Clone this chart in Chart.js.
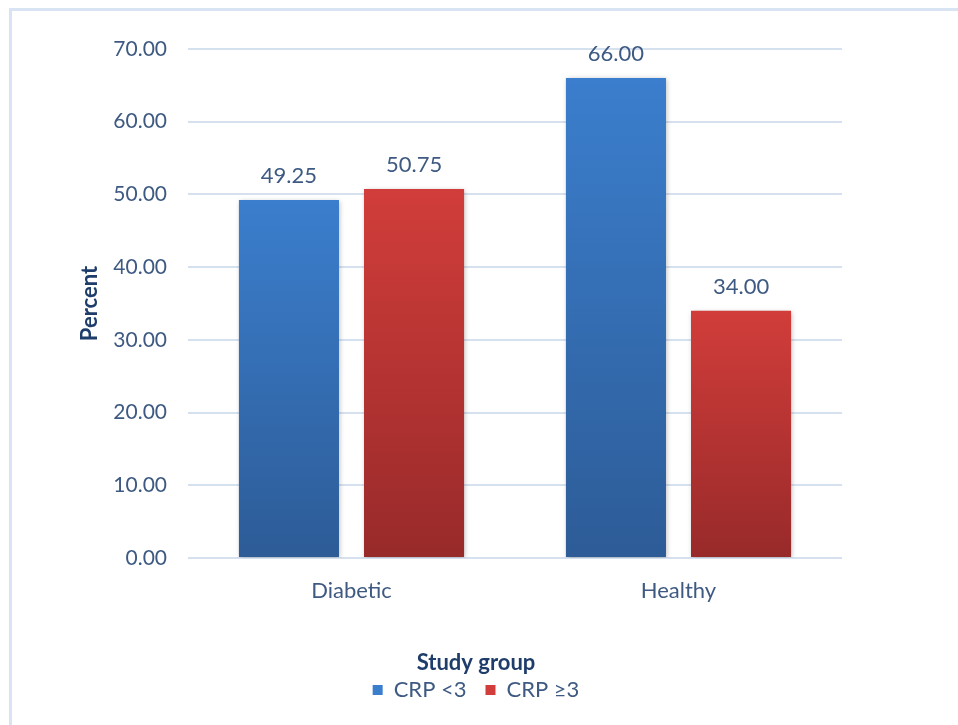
<!DOCTYPE html>
<html>
<head>
<meta charset="utf-8">
<script src="https://cdn.jsdelivr.net/npm/chart.js@4.4.1/dist/chart.umd.min.js"></script>
<style>
  html, body { margin: 0; padding: 0; background: #ffffff; }
  #wrap { position: relative; width: 958px; height: 725px; }
  canvas { display: block; }
</style>
</head>
<body>
<div id="wrap"><canvas id="c" width="958" height="725"></canvas></div>
<script>
// ---- data ----
const categories = ['Diabetic', 'Healthy'];
const seriesNames = ['CRP <3', 'CRP \u22653'];
const crpLow = [49.25, 66.00];
const crpHigh = [50.75, 34.00];
const yTicks = [0, 10, 20, 30, 40, 50, 60, 70];
const yAxisTitle = 'Percent';
const xAxisTitle = 'Study group';

// ---- styles ----
const FONT = 'Lato, "Open Sans", "DejaVu Sans", sans-serif';
const FS = 22;
const TEXT = '#3E5A82';
const TITLE = '#1F3D6A';
const GRID = '#D6E1F0';
const BLUE_TOP = '#3B7ECD', BLUE_BOT = '#2D5C97';
const RED_TOP = '#D13D3A', RED_BOT = '#982A2A';

function gradientFill(top, bottom) {
  return (ctx) => {
    const chart = ctx.chart;
    if (!chart.chartArea || ctx.type !== 'data') return top;
    const ys = chart.scales.y;
    const y0 = ys.getPixelForValue(ctx.raw);
    const y1 = ys.getPixelForValue(0);
    if (!isFinite(y0) || !isFinite(y1) || y0 === y1) return top;
    const g = chart.ctx.createLinearGradient(0, y0, 0, y1);
    g.addColorStop(0, top);
    g.addColorStop(1, bottom);
    return g;
  };
}

const frame = {
  id: 'frame',
  beforeDraw(chart) {
    const c = chart.ctx;
    c.save();
    c.fillStyle = '#D8E4F4';
    c.fillRect(9, 8, chart.width - 9, 3);
    c.fillRect(9, 8, 3, chart.height - 8);
    c.restore();
  }
};

const shadow = {
  id: 'shadow',
  beforeDatasetsDraw(chart) {
    const c = chart.ctx;
    c.save();
    c.shadowColor = 'rgba(0,0,0,0.28)';
    c.shadowBlur = 5;
    c.shadowOffsetX = 1;
    c.shadowOffsetY = 1;
  },
  afterDatasetsDraw(chart) {
    chart.ctx.restore();
  }
};

const dataLabels = {
  id: 'dataLabels',
  afterDatasetsDraw(chart) {
    const c = chart.ctx;
    c.save();
    c.font = FS + 'px ' + FONT;
    c.fillStyle = TEXT;
    c.textAlign = 'center';
    c.textBaseline = 'middle';
    chart.data.datasets.forEach((ds, di) => {
      const meta = chart.getDatasetMeta(di);
      meta.data.forEach((bar, i) => {
        c.fillText(Number(ds.data[i]).toFixed(2), bar.x, bar.y - 24);
      });
    });
    c.restore();
  }
};

new Chart(document.getElementById('c'), {
  type: 'bar',
  data: {
    labels: categories,
    datasets: [
      { label: seriesNames[0], data: crpLow, backgroundColor: gradientFill(BLUE_TOP, BLUE_BOT), borderWidth: 0 },
      { label: seriesNames[1], data: crpHigh, backgroundColor: gradientFill(RED_TOP, RED_BOT), borderWidth: 0 }
    ]
  },
  options: {
    responsive: false,
    devicePixelRatio: 1,
    animation: false,
    events: [],
    layout: { padding: { left: 110, right: 116, top: 49, bottom: 14 } },
    datasets: { bar: { categoryPercentage: 0.765, barPercentage: 0.8 } },
    scales: {
      x: {
        grid: { display: false },
        border: { display: false },
        ticks: { color: TEXT, font: { family: FONT, size: FS }, padding: 12 },
        afterFit(scale) { scale.height = 90; }
      },
      y: {
        min: yTicks[0],
        max: yTicks[yTicks.length - 1],
        afterBuildTicks(scale) { scale.ticks = yTicks.map(v => ({ value: v })); },
        grid: { color: GRID, lineWidth: 2, drawTicks: false },
        border: { display: false },
        ticks: {
          color: TEXT, font: { family: FONT, size: 21 }, padding: 21,
          callback: (v) => Number(v).toFixed(2)
        },
        title: {
          display: true, text: yAxisTitle, color: TITLE,
          font: { family: FONT, size: FS, weight: 'bold' },
          padding: { top: -33, bottom: 0 }
        },
        afterFit(scale) { scale.width = 78; }
      }
    },
    plugins: {
      tooltip: { enabled: false },
      legend: {
        position: 'bottom',
        align: 'center',
        title: {
          display: true, text: xAxisTitle, color: TITLE,
          font: { family: FONT, size: FS, weight: 'bold', lineHeight: '8px' },
          padding: { top: 4, bottom: 0 }
        },
        labels: {
          color: TEXT,
          font: { family: FONT, size: FS },
          boxWidth: 10, boxHeight: 10, padding: 19,
          generateLabels(chart) {
            const fills = [BLUE_TOP, RED_TOP];
            return chart.data.datasets.map((ds, i) => ({
              text: ds.label, fillStyle: fills[i], strokeStyle: fills[i],
              lineWidth: 0, hidden: false, datasetIndex: i, fontColor: TEXT
            }));
          }
        }
      }
    }
  },
  plugins: [frame, shadow, dataLabels]
});
</script>
</body>
</html>
